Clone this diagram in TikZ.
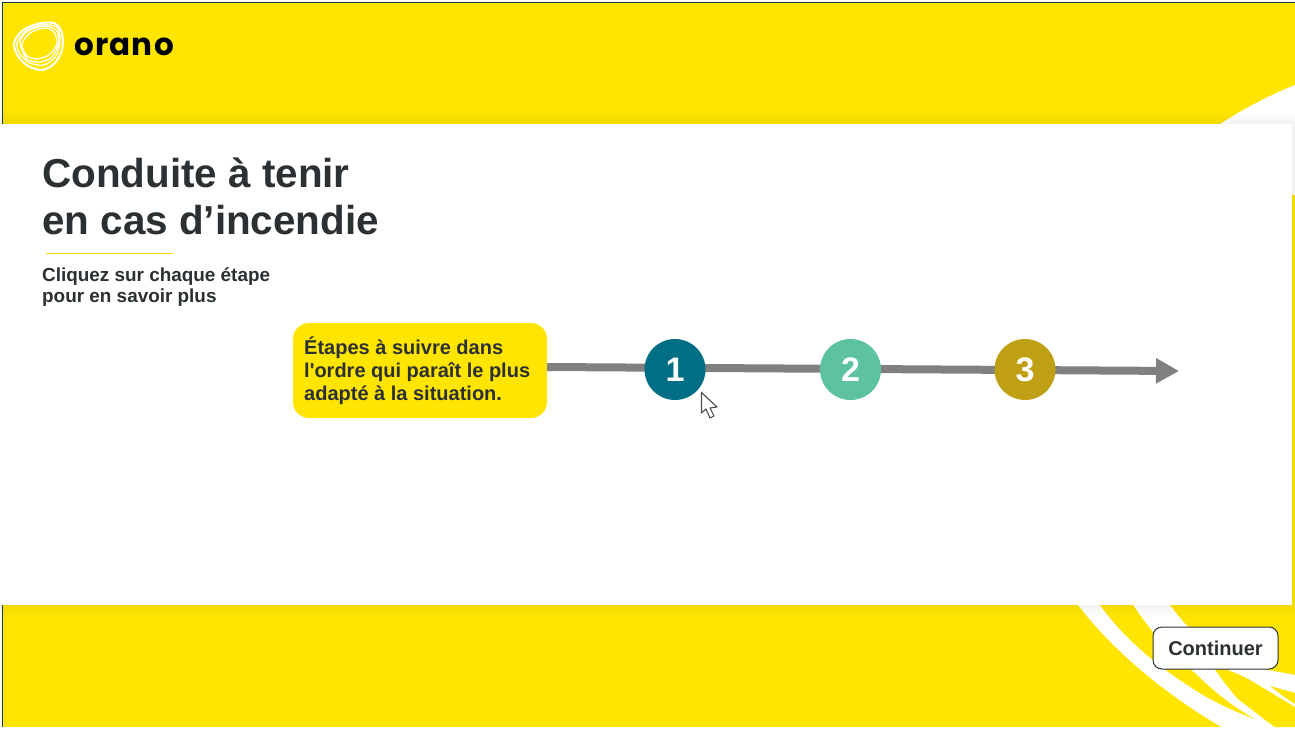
\documentclass[tikz,border=0pt]{standalone}
\usepackage{fontspec}
\setmainfont{Liberation Sans}
\newfontfamily\plainfont{Liberation Sans}
\newfontfamily\logofont[LetterSpace=4]{Poppins}
\usetikzlibrary{arrows.meta}
\definecolor{oyellow}{HTML}{FFE500}
\definecolor{oline}{HTML}{FFD400}
\definecolor{odark}{HTML}{2B3033}
\definecolor{oborder}{HTML}{0F3A4A}
\definecolor{ogray}{HTML}{808080}
\definecolor{cone}{HTML}{006F86}
\definecolor{ctwo}{HTML}{5CC2A0}
\definecolor{cthree}{HTML}{BFA015}
\tikzset{
  x=1pt,y=-1pt,
  band/.style={fill=oyellow,draw=none},
  wht/.style={fill=white,draw=none},
  txt/.style={inner sep=0pt,anchor=base west,text=odark,font=\bfseries},
  stepnum/.style={circle,minimum size=61pt,inner sep=0pt,text=white,font=\bfseries\fontsize{34}{34}\selectfont},
  logoline/.style={draw=white,line width=1.3pt},
}
\begin{document}
\begin{tikzpicture}
\useasboundingbox (0,0) rectangle (1295,730);
\fill[white] (0,0) rectangle (1295,730);
% yellow bands
\fill[oyellow] (2,2) rectangle (1295,124);
\fill[oyellow] (2,605) rectangle (1295,727);
\fill[oyellow] (1290,195) rectangle (1295,605);
% top right swoosh
\fill[wht] (1220,124) .. controls (1245,108) and (1270,95) .. (1295,85) -- (1295,195) -- (1290,195) -- (1290,124) -- cycle;
% bottom right swooshes
\fill[wht] (1078,605) .. controls (1105,640) and (1150,685) .. (1223,728) -- (1295,728) -- (1295,675)
  -- (1263,669) .. controls (1225,660) and (1195,640) .. (1170,605) -- cycle;
\fill[band] (1100,605) -- (1133,605) .. controls (1150,630) and (1170,655) .. (1195,673)
  .. controls (1215,693) and (1235,708) .. (1255,719)
  .. controls (1235,712) and (1210,700) .. (1195,690)
  .. controls (1160,668) and (1125,640) .. (1100,605) -- cycle;
\fill[band] (1212,665) -- (1225,665) -- (1228,670) .. controls (1235,673) and (1243,676) .. (1250,680)
  .. controls (1265,689) and (1280,698) .. (1295,707) -- (1295,727) -- (1275,727)
  .. controls (1262,718) and (1250,708) .. (1238,699)
  .. controls (1230,690) and (1222,680) .. (1212,665) -- cycle;
\fill[band] (1270,686) -- (1295,693) -- (1295,704) .. controls (1285,698) and (1278,692) .. (1270,686) -- cycle;
% soft shadows of the panel
\foreach \i in {1,...,12}{
  \fill[black,opacity=0.005] (0,124-\i) rectangle (1295,124);
  \fill[black,opacity=0.005] (0,605) rectangle (1295,605+\i);
}
\fill[black,opacity=0.05] (1292,124) rectangle (1295,605);
% frame line
\draw[oborder,line width=1pt] (2.5,124) -- (2.5,2.5) -- (1295,2.5);
\draw[oborder,line width=1pt] (2.5,605) -- (2.5,727);
% panel
\fill[white] (0,124) rectangle (1292,605);
% logo
\draw[logoline,line width=2pt] plot[smooth cycle] coordinates {(14,43) (22,31) (37,24) (54,23) (62,33) (62,50) (54,64) (42,70) (28,66) (18,56)};
\draw[logoline] plot[smooth cycle] coordinates {(17,43) (26,31) (42,25) (57,27) (60,40) (56,56) (44,65) (30,63) (20,54)};
\draw[logoline] plot[smooth cycle] coordinates {(20,42) (28,31) (44,26) (56,30) (59,42) (52,57) (40,62) (27,59)};
\draw[logoline] plot[smooth cycle] coordinates {(22,44) (30,33) (44,28) (54,32) (57,44) (49,55) (36,59) (26,55)};
\node[inner sep=0pt,anchor=base west,text=black] (logotext) at (74,56)
  {\logofont\bfseries\fontsize{31}{31}\selectfont orano};
% title
\node[txt] (titleone) at (42,188) {\fontsize{40.4}{40}\selectfont Conduite à tenir};
\node[txt] (titletwo) at (42,234) {\fontsize{40.4}{40}\selectfont en cas d’incendie};
\draw[oline,line width=1.2pt] (46,253.5) -- (173,253.5);
\node[txt] (hintone) at (42,281) {\fontsize{18.9}{18}\selectfont Cliquez sur chaque étape};
\node[txt] (hinttwo) at (42,302.5) {\fontsize{18.9}{18}\selectfont pour en savoir plus};
% bubble
\node[fill=oyellow,rounded corners=16pt,minimum width=254pt,minimum height=95pt,inner sep=0pt] (bubble) at (420,370.5) {};
\node[txt] (bubone) at (304,354.5) {\fontsize{20}{20}\selectfont Étapes à suivre dans};
\node[txt] (bubtwo) at (304,377.5) {\plainfont\bfseries\fontsize{20}{20}\selectfont l'ordre qui paraît le plus};
\node[txt] (bubthree) at (304,400.5) {\fontsize{20}{20}\selectfont adapté à la situation.};
% timeline
\coordinate (lineend) at (1179,371);
\draw[ogray,line width=8pt,-{Triangle[length=23pt,width=24pt]}] (bubble.east |- 0,367) -- (lineend);
\node[stepnum,fill=cone] (one) at (675,369.5) {1};
\node[stepnum,fill=ctwo] (two) at (850.5,369.5) {2};
\node[stepnum,fill=cthree] (three) at (1025,369.5) {3};
% cursor
\draw[fill=white,draw=black!70,line width=1.1pt,line join=round] (701.5,392.5) -- (701.5,413) -- (706,409) -- (710,418) -- (714,416) -- (710,408) -- (717,407) -- cycle;
% button
\node[draw=odark,fill=white,line width=1pt,rounded corners=9pt,minimum width=125pt,minimum height=42pt,inner sep=0pt,text=odark,font=\bfseries\fontsize{20}{20}\selectfont] (cont) at (1215.5,648) {Continuer};
\end{tikzpicture}
\end{document}
